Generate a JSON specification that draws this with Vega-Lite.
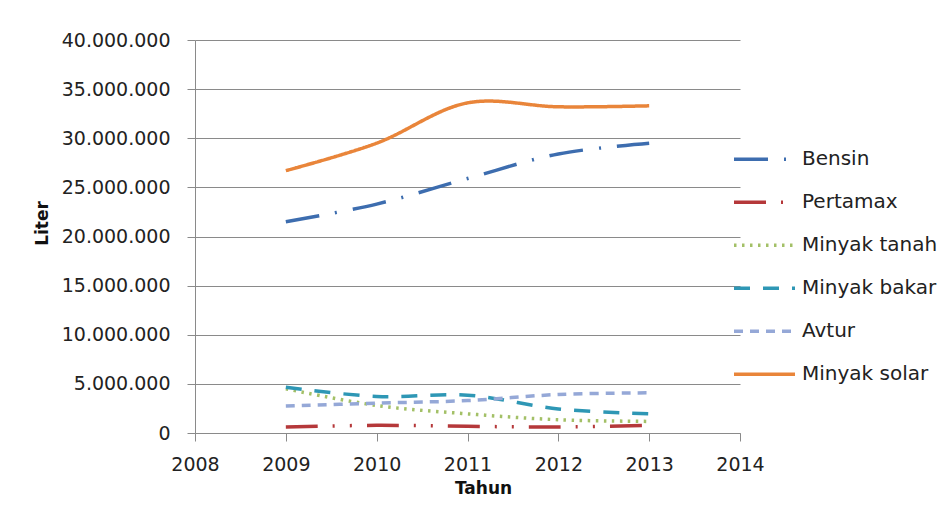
{
  "$schema": "https://vega.github.io/schema/vega-lite/v6.json",
  "autosize": {"type": "none"},
  "width": 545,
  "height": 393,
  "padding": {"left": 195, "top": 40, "right": 207, "bottom": 77},
  "background": "white",
  "config": {
    "locale": {"number": {"decimal": ",", "thousands": ".", "grouping": [3], "currency": ["Rp", ""]}},
    "font": "DejaVu Sans",
    "view": {"stroke": null}
  },
  "data": {
    "values": [
      {"tahun": 2009, "jenis": "Bensin", "liter": 21500000},
      {"tahun": 2010, "jenis": "Bensin", "liter": 23300000},
      {"tahun": 2011, "jenis": "Bensin", "liter": 25900000},
      {"tahun": 2012, "jenis": "Bensin", "liter": 28400000},
      {"tahun": 2013, "jenis": "Bensin", "liter": 29500000},
      {"tahun": 2009, "jenis": "Pertamax", "liter": 610000},
      {"tahun": 2010, "jenis": "Pertamax", "liter": 780000},
      {"tahun": 2011, "jenis": "Pertamax", "liter": 680000},
      {"tahun": 2012, "jenis": "Pertamax", "liter": 610000},
      {"tahun": 2013, "jenis": "Pertamax", "liter": 780000},
      {"tahun": 2009, "jenis": "Minyak tanah", "liter": 4500000},
      {"tahun": 2010, "jenis": "Minyak tanah", "liter": 2800000},
      {"tahun": 2011, "jenis": "Minyak tanah", "liter": 1950000},
      {"tahun": 2012, "jenis": "Minyak tanah", "liter": 1350000},
      {"tahun": 2013, "jenis": "Minyak tanah", "liter": 1180000},
      {"tahun": 2009, "jenis": "Minyak bakar", "liter": 4650000},
      {"tahun": 2010, "jenis": "Minyak bakar", "liter": 3720000},
      {"tahun": 2011, "jenis": "Minyak bakar", "liter": 3850000},
      {"tahun": 2012, "jenis": "Minyak bakar", "liter": 2450000},
      {"tahun": 2013, "jenis": "Minyak bakar", "liter": 1960000},
      {"tahun": 2009, "jenis": "Avtur", "liter": 2740000},
      {"tahun": 2010, "jenis": "Avtur", "liter": 3040000},
      {"tahun": 2011, "jenis": "Avtur", "liter": 3300000},
      {"tahun": 2012, "jenis": "Avtur", "liter": 3920000},
      {"tahun": 2013, "jenis": "Avtur", "liter": 4090000},
      {"tahun": 2009, "jenis": "Minyak solar", "liter": 26700000},
      {"tahun": 2010, "jenis": "Minyak solar", "liter": 29500000},
      {"tahun": 2011, "jenis": "Minyak solar", "liter": 33600000},
      {"tahun": 2012, "jenis": "Minyak solar", "liter": 33200000},
      {"tahun": 2013, "jenis": "Minyak solar", "liter": 33300000}
    ]
  },
  "mark": {"type": "line", "strokeWidth": 3.5, "interpolate": "catmull-rom"},
  "encoding": {
    "x": {
      "field": "tahun", "type": "quantitative",
      "scale": {"domain": [2008, 2014], "nice": false, "zero": false},
      "axis": {
        "values": [2008, 2009, 2010, 2011, 2012, 2013, 2014],
        "format": "d",
        "grid": false,
        "domainColor": "#8a8a8a",
        "tickColor": "#8a8a8a",
        "tickSize": 8,
        "labelFontSize": 19,
        "labelColor": "#222222",
        "labelPadding": 14,
        "labelFlush": false,
        "title": "Tahun",
        "titleFontSize": 17,
        "titleFontWeight": "bold",
        "titleColor": "#111111",
        "titleX": 288,
        "titleY": 55,
        "titleBaseline": "middle",
        "titleAlign": "center"
      }
    },
    "y": {
      "field": "liter", "type": "quantitative",
      "scale": {"domain": [0, 40000000], "nice": false},
      "axis": {
        "values": [0, 5000000, 10000000, 15000000, 20000000, 25000000, 30000000, 35000000, 40000000],
        "format": ",d",
        "grid": true,
        "gridColor": "#8a8a8a",
        "gridWidth": 1,
        "domainColor": "#8a8a8a",
        "tickColor": "#8a8a8a",
        "tickSize": 8,
        "labelFontSize": 19,
        "labelColor": "#222222",
        "labelPadding": 17,
        "labelFlush": false,
        "title": "Liter",
        "titleFontSize": 17,
        "titleFontWeight": "bold",
        "titleColor": "#111111",
        "titleAngle": 270,
        "titleX": -153,
        "titleY": 183,
        "titleBaseline": "middle",
        "titleAlign": "center"
      }
    },
    "color": {
      "field": "jenis", "type": "nominal",
      "scale": {
        "domain": ["Bensin", "Pertamax", "Minyak tanah", "Minyak bakar", "Avtur", "Minyak solar"],
        "range": ["#3D6DAF", "#B5383A", "#A3C067", "#2E97B5", "#95A8D7", "#E9853A"]
      },
      "legend": {
        "title": null,
        "orient": "none",
        "legendX": 537,
        "legendY": 98,
        "symbolType": "stroke",
        "symbolSize": 3721,
        "symbolStrokeWidth": 3.5,
        "labelFontSize": 20,
        "labelColor": "#222222",
        "labelOffset": 5,
        "labelLimit": 300,
        "clipHeight": 42.5,
        "rowPadding": 0
      }
    },
    "strokeDash": {
      "field": "jenis", "type": "nominal",
      "scale": {
        "domain": ["Bensin", "Pertamax", "Minyak tanah", "Minyak bakar", "Avtur", "Minyak solar"],
        "range": [[34, 16, 2, 16], [32, 15, 2, 15, 2, 15], [2.5, 5.5], [16, 13], [9, 7], [1, 0]]
      },
      "legend": null
    }
  }
}
